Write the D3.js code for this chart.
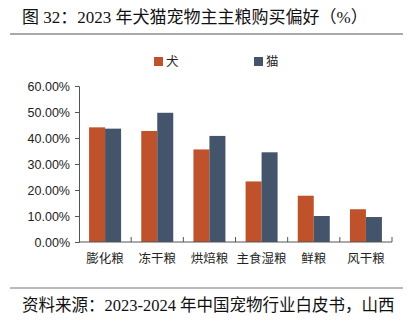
<!DOCTYPE html>
<html><head><meta charset="utf-8">
<script src="https://cdn.jsdelivr.net/npm/d3@7"></script>
<style>body{margin:0;background:#fff;}svg{display:block;}</style>
</head><body>
<script>
const categories = ["膨化粮","冻干粮","烘焙粮","主食湿粮","鲜粮","风干粮"];
const seriesNames = ["犬","猫"];
const dogValues = [44.1, 42.7, 35.6, 23.3, 17.8, 12.6];
const catValues = [43.6, 49.7, 40.8, 34.5, 10.0, 9.6];
const yTicks = [0,10,20,30,40,50,60];
const colors = ["#C0522B","#44546A"];
const titleText = "图 32：2023 年犬猫宠物主主粮购买偏好（%）";
const sourceText = "资料来源：2023-2024 年中国宠物行业白皮书，山西";

const W=408,H=332;
const svg=d3.select("body").append("svg").attr("width",W).attr("height",H);
const serif='"Liberation Serif","Noto Sans CJK SC",serif';
const cjk='"Noto Sans CJK SC",sans-serif';

svg.append("text").attr("x",22).attr("y",23).attr("font-family",serif).attr("font-size",17).attr("fill","#111").text(titleText);
svg.append("line").attr("x1",10).attr("x2",403).attr("y1",34).attr("y2",34).attr("stroke","#555").attr("stroke-width",1);
svg.append("line").attr("x1",10).attr("x2",403).attr("y1",288).attr("y2",288).attr("stroke","#777").attr("stroke-width",1);
svg.append("text").attr("x",22).attr("y",311).attr("font-family",serif).attr("font-size",16.5).attr("fill","#111").text(sourceText);

const x0=d3.scaleBand().domain(categories).range([79,392]);
const x1=d3.scaleBand().domain(seriesNames).range([0,32]);
const y=d3.scaleLinear().domain([0,60]).range([242,86]);

const data=categories.map((c,i)=>({c,vals:[dogValues[i],catValues[i]]}));
const g=svg.append("g");
g.selectAll("g.grp").data(data).join("g").attr("class","grp")
 .attr("transform",d=>`translate(${x0(d.c)+(x0.bandwidth()-32)/2},0)`)
 .selectAll("rect").data(d=>d.vals.map((v,k)=>({k,v}))).join("rect")
 .attr("x",d=>x1(seriesNames[d.k])).attr("width",x1.bandwidth())
 .attr("y",d=>y(d.v)).attr("height",d=>y(0)-y(d.v)).attr("fill",d=>colors[d.k]);

// y axis
const ya=svg.append("g").attr("transform","translate(79,0)")
 .call(d3.axisLeft(y).tickValues(yTicks).tickSize(4).tickPadding(5).tickFormat(d=>d.toFixed(2)+"%"));
ya.select(".domain").attr("stroke","#555");
ya.selectAll(".tick line").attr("stroke","#555");
ya.selectAll("text").attr("font-family",'"Liberation Sans",Arial,sans-serif').attr("font-size",12.5).attr("fill","#222");

// x axis
const xa=svg.append("g").attr("transform","translate(0,242)");
xa.append("line").attr("x1",79).attr("x2",392).attr("y1",0).attr("y2",0).attr("stroke","#555");
const bounds=categories.map(c=>x0(c)).concat([x0.range()[1]]);
xa.selectAll("line.tk").data(bounds.slice(1)).join("line").attr("class","tk")
 .attr("x1",d=>d).attr("x2",d=>d).attr("y1",0).attr("y2",-5).attr("stroke","#555");
xa.selectAll("text").data(categories).join("text")
 .attr("x",d=>x0(d)+x0.bandwidth()/2).attr("y",21).attr("text-anchor","middle")
 .attr("font-family",cjk).attr("font-size",12.5).attr("fill","#222").text(d=>d);

// legend
const leg=svg.append("g");
const lx=[154,254];
seriesNames.forEach((s,i)=>{
  leg.append("rect").attr("x",lx[i]).attr("y",57).attr("width",9).attr("height",9).attr("fill",colors[i]);
  leg.append("text").attr("x",lx[i]+12).attr("y",66).attr("font-family",cjk).attr("font-size",12.5).attr("fill","#222").text(s);
});
</script>
</body></html>
